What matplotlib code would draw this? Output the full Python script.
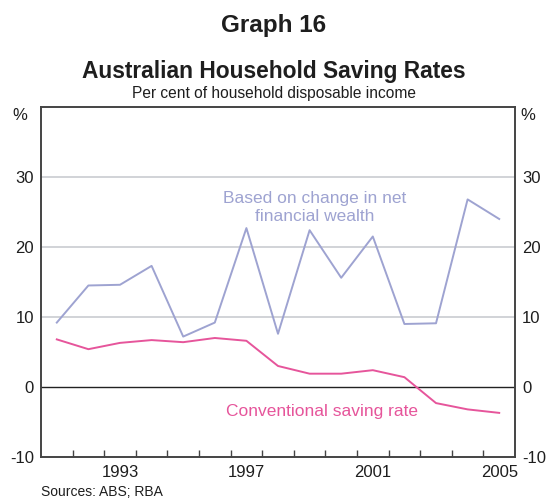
import matplotlib
matplotlib.use('Agg')
import matplotlib.pyplot as plt

plt.rcParams['font.family'] = ['Liberation Sans', 'DejaVu Sans']
plt.rcParams['axes.unicode_minus'] = False

years = [1991, 1992, 1993, 1994, 1995, 1996, 1997, 1998,
         1999, 2000, 2001, 2002, 2003, 2004, 2005]
wealth_based = [9.2, 14.5, 14.6, 17.3, 7.2, 9.2, 22.7, 7.6,
                22.4, 15.6, 21.5, 9.0, 9.1, 26.8, 24.0]
conventional = [6.8, 5.4, 6.3, 6.7, 6.4, 7.0, 6.6, 3.0,
                1.9, 1.9, 2.4, 1.4, -2.3, -3.2, -3.7]
year_labels = ['1993', '1997', '2001', '2005']
y_ticks = [-10, 0, 10, 20, 30]

blue = '#9ea3d1'
pink = '#e6559b'
spine_col = '#444444'
txt = '#1e1e1e'

fig = plt.figure(figsize=(5.48, 4.99), dpi=100)
ax = fig.add_axes([0.0748, 0.0842, 0.865, 0.7014])

# values plotted at mid-year, ticks mark year boundaries
xs = [y + 0.5 for y in years]
for g in [10, 20, 30]:
    ax.axhline(g, color='#c9ccd1', lw=1.2, zorder=1)
ax.axhline(0, color='#222222', lw=1.0, zorder=1)
ax.plot(xs, wealth_based, color=blue, lw=1.4, zorder=3)
ax.plot(xs, conventional, color=pink, lw=1.4, zorder=3)

ax.set_xlim(1991, 2006)
ax.set_ylim(-10, 40)

ax.set_xticks([int(l) + 0.5 for l in year_labels])
ax.set_xticklabels(year_labels)
ax.set_xticks(range(1992, 2006), minor=True)
ax.tick_params(axis='x', which='major', length=0, pad=6, labelsize=12, colors=txt)
ax.tick_params(axis='x', which='minor', direction='in', length=5, width=1, color=spine_col)

ax.set_yticks(y_ticks)
ax.tick_params(axis='y', length=0, pad=5, labelsize=12, colors=txt,
               labelleft=True, labelright=True)

for s in ax.spines.values():
    s.set_color(spine_col)
    s.set_linewidth(1.4)

ax.text(-0.028, 0.975, '%', transform=ax.transAxes, ha='right', va='center',
        fontsize=12, color=txt)
ax.text(1.012, 0.975, '%', transform=ax.transAxes, ha='left', va='center',
        fontsize=12, color=txt)

ax.text(1999.66, 25.6, 'Based on change in net\nfinancial wealth', ha='center',
        va='center', fontsize=12.5, color=blue, linespacing=1.25)
ax.text(1999.9, -3.5, 'Conventional saving rate', ha='center', va='center',
        fontsize=12.5, color=pink)

fig.text(0.5, 0.948, 'Graph 16', ha='center', va='center', fontsize=17.5,
         fontweight='bold', color=txt)
fig.text(0.5, 0.857, 'Australian Household Saving Rates', ha='center',
         va='center', fontsize=16.4, fontweight='bold', color=txt)
fig.text(0.5, 0.813, 'Per cent of household disposable income', ha='center',
         va='center', fontsize=11.2, color=txt)
fig.text(0.074, 0.015, 'Sources: ABS; RBA', ha='left', va='center',
         fontsize=10, color=txt)

fig.savefig('out.png', dpi=100)
